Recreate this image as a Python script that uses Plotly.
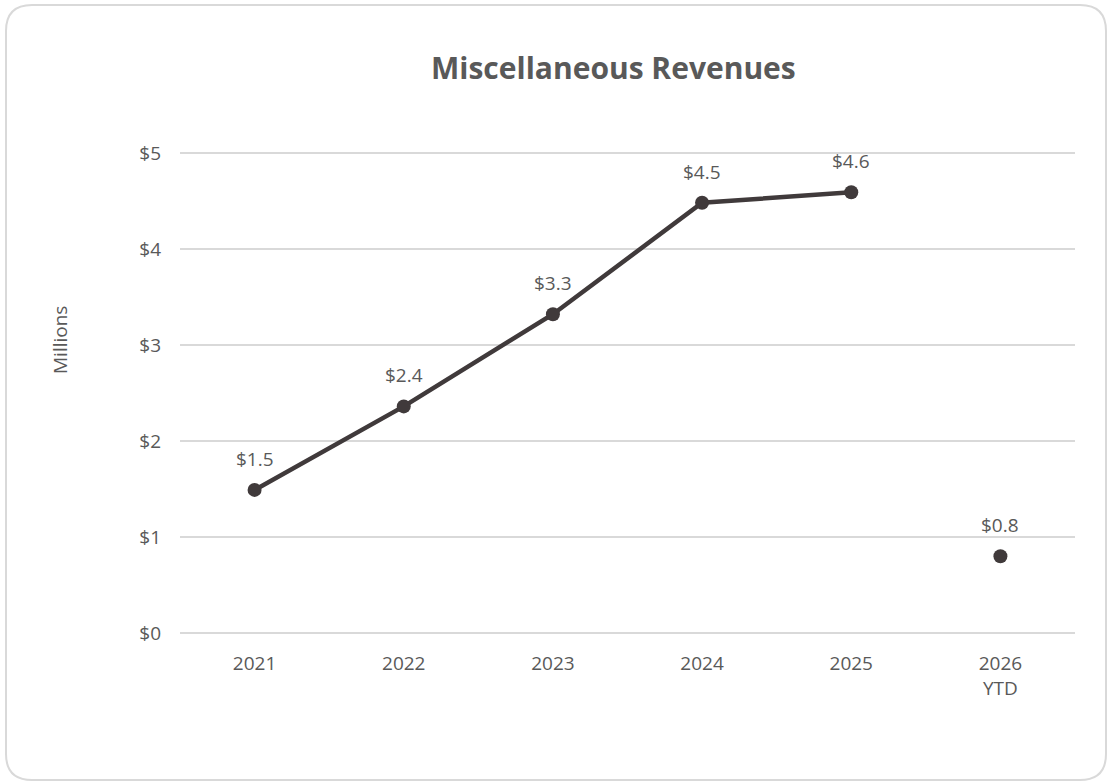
import plotly.graph_objects as go

# Miscellaneous revenues by fiscal year, in millions of dollars
years = ["2021", "2022", "2023", "2024", "2025", "2026<br>YTD"]
revenues = [1.49, 2.36, 3.32, 4.48, 4.59, 0.80]
y_ticks = [0, 1, 2, 3, 4, 5]
y_tick_labels = ["$0", "$1", "$2", "$3", "$4", "$5"]

W, H = 1113, 784
L, R, T, B = 180, 38, 150, 151
PW, PH = W - L - R, H - T - B
Y_MAX = 5.03

FONT = "Open Sans, Noto Sans, sans-serif"
LINE_COLOR = "#403a3b"
TEXT_COLOR = "#595959"
GRID_COLOR = "#d9d9d9"


def px(x):
    return (x - L) / PW


def py(y):
    return (H - B - y) / PH


fig = go.Figure()

# Full years joined by a line
fig.add_trace(go.Scatter(
    x=years[:5], y=revenues[:5],
    mode="lines+markers",
    line=dict(color=LINE_COLOR, width=4.5),
    marker=dict(size=14, color=LINE_COLOR),
    cliponaxis=False,
    showlegend=False,
))

# Year-to-date value shown on its own
fig.add_trace(go.Scatter(
    x=years[5:], y=revenues[5:],
    mode="markers",
    marker=dict(size=14, color=LINE_COLOR),
    cliponaxis=False,
    showlegend=False,
))

# Value labels above each point (category index as x position)
for i, v in enumerate(revenues):
    fig.add_annotation(
        x=i, y=v, text=f"${v:.1f}", showarrow=False,
        xanchor="center", yanchor="middle", yshift=31,
        font=dict(family=FONT, size=19, color=TEXT_COLOR),
    )

# Top gridline at the $5 tick
fig.add_shape(type="line", xref="paper", yref="y", x0=0, x1=1, y0=5, y1=5,
              line=dict(color=GRID_COLOR, width=1.5), layer="below")

# Rounded outer frame
x0, x1, y0, y1, r = 6, 1106, 5, 780, 26
path = (
    f"M {px(x0 + r)},{py(y0)} L {px(x1 - r)},{py(y0)} "
    f"Q {px(x1)},{py(y0)} {px(x1)},{py(y0 + r)} "
    f"L {px(x1)},{py(y1 - r)} "
    f"Q {px(x1)},{py(y1)} {px(x1 - r)},{py(y1)} "
    f"L {px(x0 + r)},{py(y1)} "
    f"Q {px(x0)},{py(y1)} {px(x0)},{py(y1 - r)} "
    f"L {px(x0)},{py(y0 + r)} "
    f"Q {px(x0)},{py(y0)} {px(x0 + r)},{py(y0)} Z"
)
fig.add_shape(type="path", path=path, xref="paper", yref="paper",
              line=dict(color=GRID_COLOR, width=2), layer="below")

fig.add_annotation(
    text="<b>Miscellaneous Revenues</b>",
    x=px(613), y=py(68), xref="paper", yref="paper",
    xanchor="center", yanchor="middle", showarrow=False,
    font=dict(family=FONT, size=30, color=TEXT_COLOR),
)
fig.add_annotation(
    text="Millions",
    x=px(60), y=py(340), xref="paper", yref="paper",
    xanchor="center", yanchor="middle", showarrow=False, textangle=-90,
    font=dict(family=FONT, size=19, color=TEXT_COLOR),
)

fig.update_layout(
    width=W, height=H,
    margin=dict(l=L, r=R, t=T, b=B),
    paper_bgcolor="white", plot_bgcolor="white",
    font=dict(family=FONT, color=TEXT_COLOR),
)
fig.update_xaxes(
    type="category", range=[-0.5, 5.5],
    showgrid=False, showline=False, ticks="",
    tickfont=dict(family=FONT, size=19, color=TEXT_COLOR),
    ticklabelstandoff=17,
    fixedrange=True,
)
fig.update_yaxes(
    range=[0, Y_MAX], tickvals=y_ticks, ticktext=y_tick_labels,
    showgrid=True, gridcolor=GRID_COLOR, gridwidth=1.5,
    zeroline=True, zerolinecolor=GRID_COLOR, zerolinewidth=1.5,
    showline=False, ticks="", ticklabelstandoff=18,
    tickfont=dict(family=FONT, size=19, color=TEXT_COLOR),
    fixedrange=True,
)

fig.write_html("out.html")
